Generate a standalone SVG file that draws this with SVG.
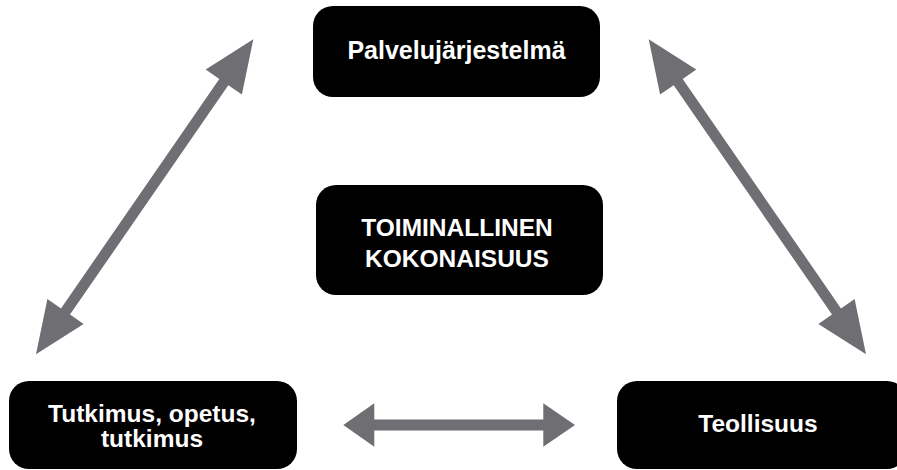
<svg xmlns="http://www.w3.org/2000/svg" width="897" height="470" viewBox="0 0 897 470">
<style>
.box{fill:#000;}
.lbl{fill:#fff;font-family:"Liberation Sans",Arial,sans-serif;font-weight:bold;font-size:24.5px;text-anchor:middle;}
.arr{fill:#6f6e73;}
</style>
<rect width="897" height="470" fill="#fff"/>
<g id="connectors">
<polygon class="arr" points="253.3,39.3 241.9,94.6 228.3,85.2 70.0,314.6 83.6,324.0 36,354.3 47.4,299.0 61.0,308.4 219.3,79.0 205.7,69.6"/>
<polygon class="arr" points="648.7,39.3 660.1,94.6 673.7,85.2 832.0,314.6 818.4,324.0 866,354.3 854.6,299.0 841.0,308.4 682.7,79.0 696.3,69.6"/>
<polygon class="arr" points="343.3,425 374.3,403.3 374.3,419.5 543.3,419.5 543.3,403.3 575,425 543.3,446.7 543.3,430.5 374.3,430.5 374.3,446.7"/>
</g>
<g id="palvelujarjestelma">
<rect class="box" x="313" y="6" width="287" height="91" rx="20"/>
<text class="lbl" x="456.5" y="59" style="font-size:25px">Palvelujärjestelmä</text>
</g>
<g id="toiminallinen">
<rect class="box" x="316" y="185" width="287" height="110" rx="20"/>
<text class="lbl" x="457" y="236">TOIMINALLINEN</text>
<text class="lbl" x="457" y="267">KOKONAISUUS</text>
</g>
<g id="tutkimus">
<rect class="box" x="9" y="381" width="288" height="88" rx="20"/>
<text class="lbl" x="152" y="422">Tutkimus, opetus,</text>
<text class="lbl" x="152" y="447">tutkimus</text>
</g>
<g id="teollisuus">
<rect class="box" x="617" y="381" width="290" height="88" rx="20"/>
<text class="lbl" x="758" y="432">Teollisuus</text>
</g>
</svg>
